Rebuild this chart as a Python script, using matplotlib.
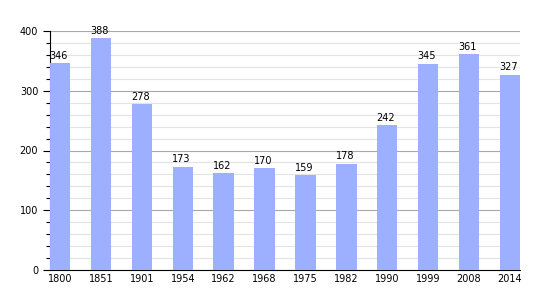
import matplotlib.pyplot as plt
from matplotlib.ticker import MultipleLocator

years = ['1800', '1851', '1901', '1954', '1962', '1968', '1975', '1982', '1990', '1999', '2008', '2014']
population = [346, 388, 278, 173, 162, 170, 159, 178, 242, 345, 361, 327]

fig = plt.figure(figsize=(5.5, 3), dpi=100)
ax = fig.add_axes([50 / 550, 30 / 300, 470 / 550, 239 / 300])

pos = list(range(len(years)))
ax.bar(pos, population, width=0.5, align='edge', color='#9cb0ff', zorder=3)
for x, v in zip(pos, population):
    ax.text(x + 0.22, v + 4, str(v), ha='center', va='bottom', fontsize=7, zorder=4)

ax.set_xlim(0, 11.5)
ax.set_ylim(0, 400)
ax.set_xticks([p + 0.25 for p in pos])
ax.set_xticklabels(years, fontsize=7)
ax.tick_params(axis='x', length=0, pad=3)
ax.yaxis.set_major_locator(MultipleLocator(100))
ax.yaxis.set_minor_locator(MultipleLocator(20))
ax.tick_params(axis='y', which='major', labelsize=7, length=5, width=0.8)
ax.tick_params(axis='y', which='minor', length=3, width=0.8)
ax.grid(axis='y', which='major', color='#a8a8a8', linewidth=0.8, zorder=0)
ax.grid(axis='y', which='minor', color='#e4e4e4', linewidth=0.8, zorder=0)

for s in ['top', 'right']:
    ax.spines[s].set_visible(False)

fig.savefig('out.png')
